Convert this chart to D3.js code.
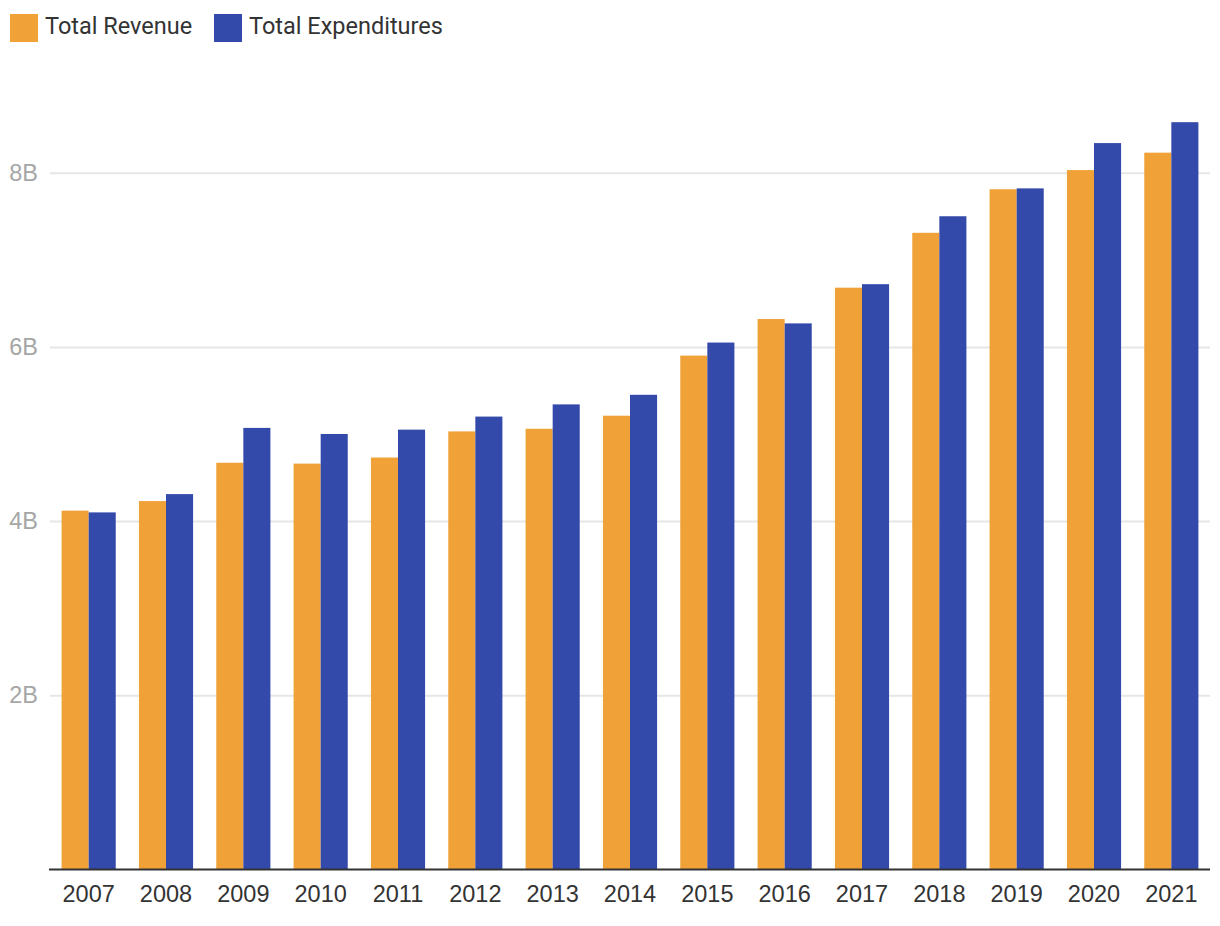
<!DOCTYPE html>
<html>
<head>
<meta charset="utf-8">
<script src="https://cdn.jsdelivr.net/npm/d3@7"></script>
<style>
  html, body { margin: 0; padding: 0; background: #fff; }
  svg { display: block; font-family: Roboto, "Noto Sans", sans-serif; }
</style>
</head>
<body>
<svg id="chart" width="1220" height="926"></svg>
<script>
const years = ["2007","2008","2009","2010","2011","2012","2013","2014","2015","2016","2017","2018","2019","2020","2021"];
const totalRevenue = [4.12e9, 4.23e9, 4.67e9, 4.66e9, 4.73e9, 5.03e9, 5.06e9, 5.21e9, 5.90e9, 6.32e9, 6.68e9, 7.31e9, 7.81e9, 8.03e9, 8.23e9];
const totalExpenditures = [4.10e9, 4.31e9, 5.07e9, 5.00e9, 5.05e9, 5.20e9, 5.34e9, 5.45e9, 6.05e9, 6.27e9, 6.72e9, 7.50e9, 7.82e9, 8.34e9, 8.58e9];
const seriesNames = ["Total Revenue", "Total Expenditures"];
const seriesColors = ["#f0a238", "#334aab"];
const yTicks = [2e9, 4e9, 6e9, 8e9];
const yTickLabels = ["2B", "4B", "6B", "8B"];

const svg = d3.select("#chart");
const left = 50, right = 1210, bottom = 869.5;
const pxPerB = 87.1;
const fontSize = 23.5;

const x = d3.scaleBand().domain(years).range([left, right]).paddingInner(0.3).paddingOuter(0.15);
const xs = d3.scaleBand().domain(seriesNames).range([0, x.bandwidth()]).padding(0);
const y = d3.scaleLinear().domain([0, 9e9]).range([bottom, bottom - 9 * pxPerB]);

// gridlines
const yAxis = d3.axisLeft(y).tickValues(yTicks).tickSize(-(right - left)).tickFormat((d, i) => yTickLabels[i]).tickPadding(12);
const gy = svg.append("g").attr("transform", `translate(${left},0)`).call(yAxis);
gy.select(".domain").remove();
gy.selectAll(".tick line").attr("stroke", "#e6e6e6").attr("stroke-width", 2);
gy.selectAll(".tick text").attr("fill", "#a6a6a6").attr("font-size", fontSize).attr("x", -12);

// bars
const data = years.map((yr, i) => ({ yr, vals: [totalRevenue[i], totalExpenditures[i]] }));
const groups = svg.append("g").selectAll("g").data(data).join("g")
  .attr("transform", d => `translate(${x(d.yr)},0)`);
groups.selectAll("rect").data(d => d.vals.map((v, j) => ({ v, j })))
  .join("rect")
  .attr("x", d => xs(seriesNames[d.j]))
  .attr("width", xs.bandwidth())
  .attr("y", d => y(d.v))
  .attr("height", d => y(0) - y(d.v))
  .attr("fill", d => seriesColors[d.j]);

// x axis
const xAxis = d3.axisBottom(x).tickSize(0).tickPadding(15.5);
const gx = svg.append("g").attr("transform", `translate(0,${bottom})`).call(xAxis);
gx.select(".domain").attr("stroke", "#333").attr("stroke-width", 2).attr("d", `M${left - 1},0H${right}`);
gx.selectAll(".tick text").attr("fill", "#333").attr("font-size", fontSize);

// legend
const legend = svg.append("g");
const legendX = [10, 214];
seriesNames.forEach((name, i) => {
  const g = legend.append("g").attr("transform", `translate(${legendX[i]},14)`);
  g.append("rect").attr("width", 28).attr("height", 28).attr("fill", seriesColors[i]);
  g.append("text").attr("x", 35).attr("y", 19.5)
    .attr("fill", "#333").attr("font-size", fontSize).text(name);
});
</script>
</body>
</html>
